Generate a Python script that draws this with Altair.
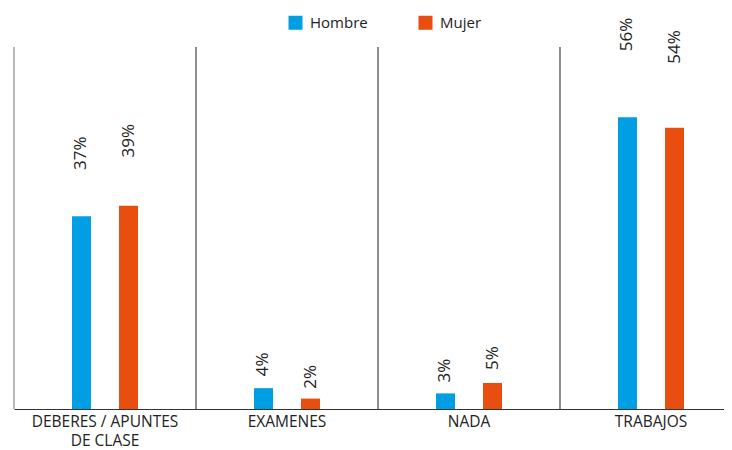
import altair as alt
import pandas as pd

categories = ["DEBERES / APUNTES|DE CLASE", "EXAMENES", "NADA", "TRABAJOS"]
hombre = [37, 4, 3, 56]
mujer = [39, 2, 5, 54]
series = ["Hombre", "Mujer"]
colors = ["#009FE3", "#E84E0F"]

rows = []
for c, h, m in zip(categories, hombre, mujer):
    rows.append({"cat": c, "sexo": "Hombre", "valor": h})
    rows.append({"cat": c, "sexo": "Mujer", "valor": m})
df = pd.DataFrame(rows)
cats_df = pd.DataFrame({"cat": categories})

FONT = "Open Sans"

xscale = alt.Scale(domain=categories, range=[0, 728], paddingInner=0, paddingOuter=0)
x_axis = alt.Axis(
    title=None,
    labelAngle=0,
    ticks=False,
    grid=False,
    domainColor="#333333",
    domainWidth=1.2,
    labelFont=FONT,
    labelFontSize=15.5,
    labelColor="#222222",
    labelPadding=5,
    labelLimit=400,
    labelLineHeight=19,
    labelExpr="split(datum.label, '|')",
)
x_enc = alt.X("cat:N", sort=categories, scale=xscale, axis=x_axis)
xoff = alt.XOffset(
    "sexo:N",
    scale=alt.Scale(domain=series, range=[58, 124], paddingInner=0.596, paddingOuter=0),
)
yscale = alt.Scale(domain=[0, 69.5], nice=False, zero=True)

bars = alt.Chart(df).mark_bar().encode(
    x=x_enc,
    xOffset=xoff,
    y=alt.Y("valor:Q", scale=yscale, axis=None),
    color=alt.Color(
        "sexo:N",
        scale=alt.Scale(domain=series, range=colors),
        legend=alt.Legend(
            title=None,
            orient="none",
            direction="horizontal",
            legendX=274,
            legendY=-32,
            symbolType="square",
            symbolSize=196,
            symbolStrokeWidth=0,
            symbolOpacity=1,
            labelFont=FONT,
            labelFontSize=15,
            labelColor="#222222",
            labelOffset=7,
            columnPadding=50,
            padding=0,
        ),
    ),
)

labels = alt.Chart(df).transform_calculate(
    pos="datum.valor * 1.2 + 1.5",
    txt="datum.valor + '%'",
).mark_text(
    angle=270,
    align="left",
    baseline="middle",
    font=FONT,
    fontSize=17,
    color="#222222",
).encode(
    x=x_enc,
    xOffset=xoff,
    y=alt.Y("pos:Q", scale=yscale, axis=None),
    text="txt:N",
)

seps = alt.Chart(cats_df).mark_rule(strokeWidth=1.2).encode(
    x=alt.X("cat:N", sort=categories, scale=xscale, bandPosition=0, axis=x_axis),
    y=alt.value(0),
    y2=alt.value(362),
    color=alt.condition(
        alt.datum.cat == categories[0], alt.value("#888888"), alt.value("#444444")
    ),
)

chart = alt.layer(seps, bars, labels).properties(
    width=710,
    height=362,
    background="white",
    autosize=alt.AutoSizeParams(type="none"),
    padding={"left": 6, "top": 39, "right": 0, "bottom": 43},
).configure_view(stroke=None)

chart.save("out.html", embed_options={"renderer": "svg", "actions": False})
